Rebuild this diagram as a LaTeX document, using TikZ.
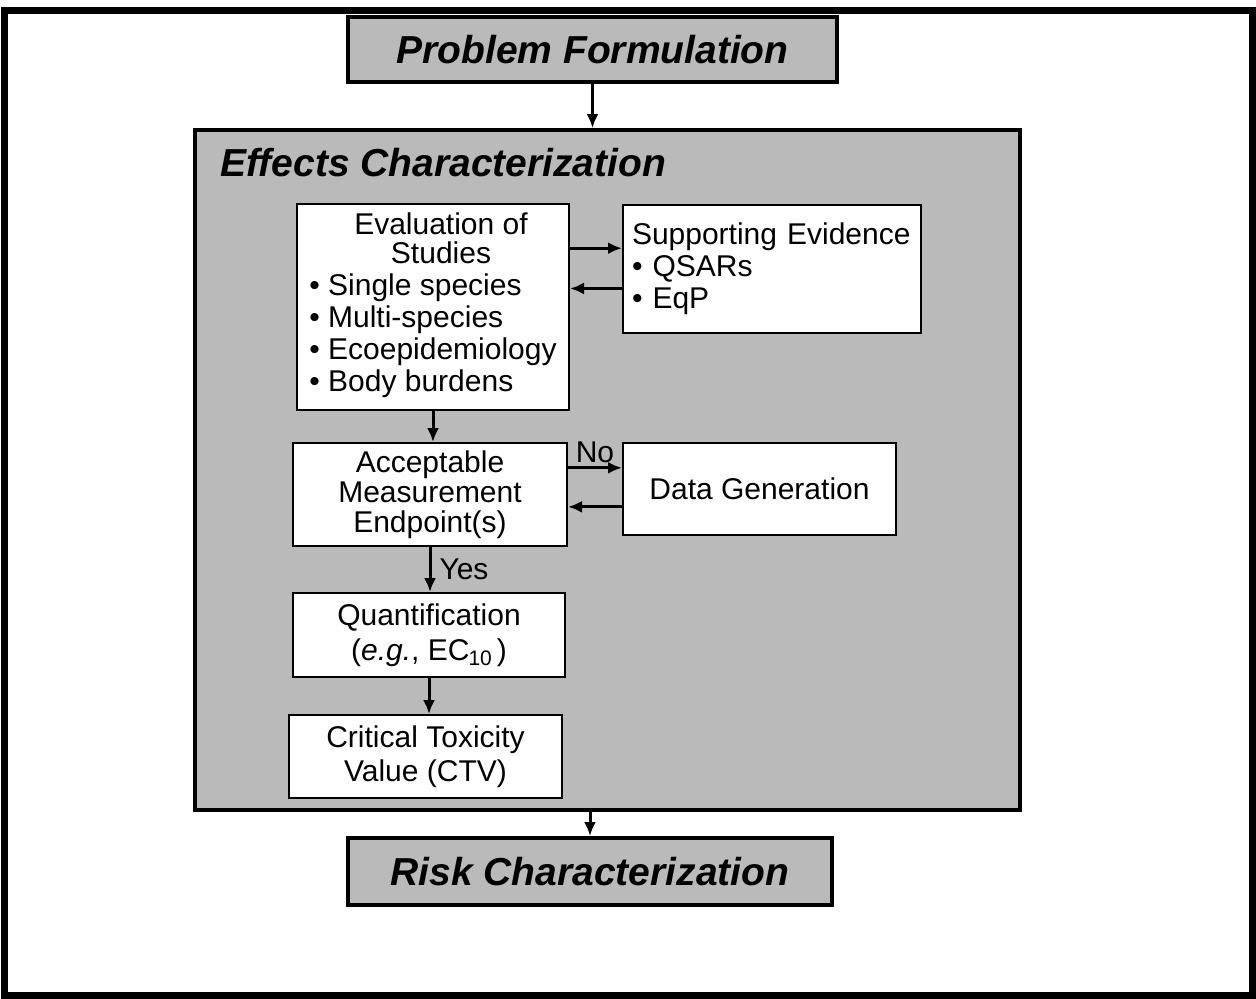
\documentclass[tikz,border=0pt]{standalone}
\usepackage{fontspec}
\setmainfont{Liberation Sans}
\usetikzlibrary{arrows.meta,calc}
\definecolor{screen}{gray}{0.73}
\newcommand\diabody{\fontsize{15}{16}\selectfont}
\newcommand\diahead{\fontsize{19.5}{22}\selectfont\bfseries\itshape}
\begin{document}
\begin{tikzpicture}[x=0.5pt,y=-0.5pt,
  shaded/.style={draw=black,line width=1.9pt,fill=screen,inner sep=0pt},
  wbox/.style={draw=black,line width=1pt,fill=white,inner sep=0pt,align=center,font=\diabody},
  arr/.style={line width=1.5pt,-{Latex[length=7pt,width=6pt]}},
  lbl/.style={font=\diabody,inner sep=2pt}]

\useasboundingbox (0,0) rectangle (1256,999);
\fill[white] (0,0) rectangle (1256,999);
% page frame
\draw[line width=3.5pt] (4,11) rectangle (1252.5,995.5);

% outer stages
\node[shaded,minimum width=244.5pt,minimum height=32.5pt,font=\diahead] (pf) at (592.5,49.5) {Problem Formulation};
\node[shaded,minimum width=412.5pt,minimum height=340pt] (ec) at (607.5,470) {};
\node[font=\diahead,anchor=base west,inner sep=0pt] (ectitle) at (220,177) {Effects Characterization};
\node[shaded,minimum width=242pt,minimum height=33.5pt,font=\diahead] (risk) at (590,871.5) {Risk Characterization};

% inner steps
\node[wbox,minimum width=136pt,minimum height=103pt] (eval) at (433,307)
  {\begin{tabular}{@{}l@{}}
   \multicolumn{1}{@{}c@{}}{\hspace*{8pt}Evaluation of}\\[-1.5pt]
   \multicolumn{1}{@{}c@{}}{\hspace*{8pt}Studies}\\
   • Single species\\
   • Multi-species\\
   • Ecoepidemiology\\
   • Body burdens
   \end{tabular}};
\node[wbox,text width=140pt,inner xsep=4.5pt,minimum height=64pt,align=left] (supp) at (772,269)
  {Supporting Evidence\\• QSARs\\• EqP};
\node[wbox,minimum width=137pt,minimum height=51.5pt] (acc) at (430,494.5)
  {Acceptable\\[-1pt]Measurement\\[-1pt]Endpoint(s)};
\node[wbox,minimum width=136.5pt,minimum height=46pt] (dg) at (759.5,489) {Data Generation};
\node[wbox,minimum width=136pt,minimum height=42pt] (quant) at (429,635)
  {Quantification\\[1.5pt](\textit{e.g.}, EC\kern-0.5pt\raisebox{-0.35ex}{\fontsize{10.5}{12}\selectfont 10}\,)};
\node[wbox,minimum width=136.5pt,minimum height=41.5pt] (ctv) at (425.5,756.5)
  {Critical Toxicity\\[1pt]Value (CTV)};

% connectors
\coordinate (s1) at ($(supp.north west)!0.34!(supp.south west)$);
\coordinate (s2) at ($(supp.north west)!0.65!(supp.south west)$);
\coordinate (d1) at ($(dg.north west)!0.275!(dg.south west)$);
\coordinate (d2) at ($(dg.north west)!0.69!(dg.south west)$);

\draw[arr] (pf.south) -- (pf.south |- ec.north);
\draw[arr] (eval.east |- s1) -- (s1);
\draw[arr] (s2) -- (eval.east |- s2);
\draw[arr] (eval.south) -- (eval.south |- acc.north);
\draw[arr] (acc.east |- d1) -- node[lbl,above] {No} (d1);
\draw[arr] (d2) -- (acc.east |- d2);
\draw[arr] (acc.south) -- node[lbl,right,xshift=2pt] {Yes} (acc.south |- quant.north);
\draw[arr] (quant.south) -- (quant.south |- ctv.north);
\draw[arr] (risk.north |- ec.south) -- (risk.north);
\end{tikzpicture}
\end{document}
